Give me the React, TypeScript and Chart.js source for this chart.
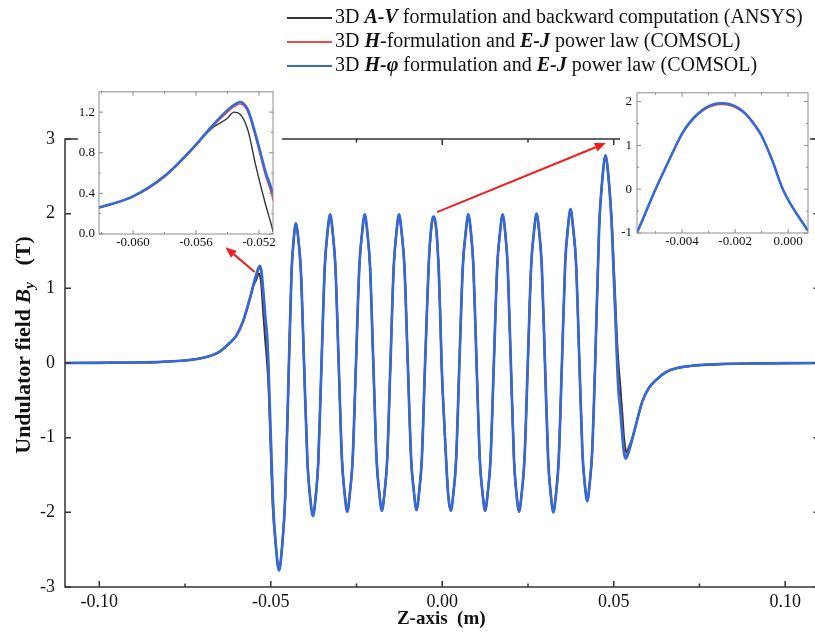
import React, { useEffect, useRef } from "react";
import { Chart, registerables } from "chart.js";

Chart.register(...registerables);

const FONT = "'Liberation Serif', 'Times New Roman', Times, serif";

// ---- data (z in m, By in T) ----
const zPos = [
  -0.110, -0.100, -0.090, -0.082, -0.076, -0.072, -0.068, -0.065, -0.0622, -0.060,
  -0.058, -0.056, -0.055, -0.054, -0.0536, -0.0532, -0.0527, -0.0522, -0.0516, -0.0511,
  -0.0507, -0.0494, -0.04857, -0.0476, -0.04663, -0.0458, -0.0447, -0.04394, -0.04336, -0.0427,
  -0.0419, -0.04121, -0.0403, -0.03931, -0.03856, -0.0377, -0.03688, -0.03615, -0.0352, -0.03425,
  -0.0335, -0.0327, -0.0319, -0.03115, -0.0302, -0.02925, -0.0285, -0.0277, -0.0269, -0.02612,
  -0.02515, -0.02418, -0.0234, -0.0226, -0.0218, -0.02105, -0.0201, -0.01915, -0.0184, -0.0176,
  -0.0168, -0.01605, -0.0151, -0.01415, -0.0134, -0.0126, -0.0118, -0.01102, -0.01005, -0.00908,
  -0.0083, -0.0075, -0.0067, -0.00595, -0.0050, -0.0045, -0.0040, -0.0037, -0.0034, -0.0031, -0.0028,
  -0.0025, -0.0022, -0.0019, -0.0016, -0.0013, -0.0010, -0.0006,
  -0.0002, 0.00075, 0.0013, 0.0018, 0.0025, 0.0033, 0.00405, 0.0050, 0.00599, 0.0068,
  0.0076, 0.0084, 0.00909, 0.0100, 0.01095, 0.0117, 0.0125, 0.0133, 0.01408, 0.01505,
  0.01602, 0.0168, 0.0176, 0.0184, 0.01909, 0.0200, 0.02091, 0.0216, 0.0224, 0.0232,
  0.02398, 0.02495, 0.02592, 0.0267, 0.0275, 0.0283, 0.02902, 0.02995, 0.03088, 0.0316,
  0.0324, 0.0332, 0.03395, 0.0349, 0.03585, 0.0366, 0.0374, 0.0382, 0.03901, 0.0400,
  0.04087, 0.04154, 0.0423, 0.0430, 0.0437, 0.0446, 0.04574, 0.0466, 0.0476, 0.0486,
  0.04945, 0.0510, 0.0514, 0.0519, 0.0525, 0.0530, 0.0535, 0.0539, 0.0543, 0.0553,
  0.0563, 0.0583, 0.0603, 0.0625, 0.0653, 0.0683, 0.0723, 0.0763, 0.0823, 0.0903,
  0.1003, 0.110,
];

// 3D H-phi formulation (COMSOL)
const byBlue = [
  0, 0.003, 0.007, 0.015, 0.03, 0.05, 0.09, 0.15, 0.26, 0.37,
  0.57, 0.88, 1.06, 1.22, 1.27, 1.30, 1.22, 0.97, 0.62, 0.38,
  0, -1.81, -2.42, -2.78, -2.42, -1.81, 0, 1.22, 1.63, 1.87,
  1.63, 1.22, 0, -1.33, -1.78, -2.05, -1.78, -1.33, 0, 1.29,
  1.73, 1.99, 1.73, 1.29, 0, -1.29, -1.73, -1.99, -1.73, -1.29,
  0, 1.29, 1.73, 1.99, 1.73, 1.29, 0, -1.29, -1.72, -1.98,
  -1.72, -1.29, 0, 1.29, 1.73, 1.99, 1.73, 1.29, 0, -1.28,
  -1.71, -1.97, -1.71, -1.28, 0, 0.65, 1.27, 1.53, 1.72, 1.86, 1.94,
  1.96, 1.94, 1.86, 1.72, 1.50, 1.22, 0.66,
  0, -0.95, -1.45, -1.80, -1.98, -1.72, -1.29, 0, 1.29, 1.73,
  1.99, 1.73, 1.29, 0, -1.29, -1.72, -1.98, -1.72, -1.29, 0,
  1.29, 1.73, 1.99, 1.73, 1.29, 0, -1.29, -1.73, -1.99, -1.73,
  -1.29, 0, 1.30, 1.74, 2.00, 1.74, 1.30, 0, -1.30, -1.74,
  -2.00, -1.74, -1.30, 0, 1.34, 1.79, 2.06, 1.79, 1.34, 0,
  -1.20, -1.61, -1.85, -1.61, -1.20, 0, 1.81, 2.42, 2.78, 2.42,
  1.81, 0, -0.38, -0.62, -0.97, -1.20, -1.28, -1.25, -1.20, -1.04,
  -0.86, -0.52, -0.33, -0.22, -0.12, -0.07, -0.04, -0.025, -0.012, -0.006,
  -0.003, 0,
];

// 3D H-formulation (COMSOL)
const byRed = [
  0, 0.003, 0.007, 0.015, 0.03, 0.05, 0.09, 0.15, 0.255, 0.365,
  0.56, 0.87, 1.05, 1.20, 1.25, 1.28, 1.20, 0.94, 0.58, 0.33,
  -0.04, -1.83, -2.42, -2.78, -2.42, -1.81, 0, 1.22, 1.63, 1.87,
  1.63, 1.22, 0, -1.33, -1.78, -2.05, -1.78, -1.33, 0, 1.29,
  1.73, 1.99, 1.73, 1.29, 0, -1.29, -1.73, -1.99, -1.73, -1.29,
  0, 1.29, 1.73, 1.99, 1.73, 1.29, 0, -1.29, -1.72, -1.98,
  -1.72, -1.29, 0, 1.29, 1.73, 1.99, 1.73, 1.29, 0, -1.28,
  -1.71, -1.97, -1.71, -1.28, 0, 0.64, 1.25, 1.51, 1.70, 1.83, 1.91,
  1.93, 1.91, 1.83, 1.70, 1.48, 1.21, 0.65,
  0, -0.95, -1.45, -1.80, -1.98, -1.72, -1.29, 0, 1.29, 1.73,
  1.99, 1.73, 1.29, 0, -1.29, -1.72, -1.98, -1.72, -1.29, 0,
  1.29, 1.73, 1.99, 1.73, 1.29, 0, -1.29, -1.73, -1.99, -1.73,
  -1.29, 0, 1.30, 1.74, 2.00, 1.74, 1.30, 0, -1.30, -1.74,
  -2.00, -1.74, -1.30, 0, 1.34, 1.79, 2.06, 1.79, 1.34, 0,
  -1.20, -1.61, -1.85, -1.61, -1.20, 0, 1.81, 2.42, 2.78, 2.42,
  1.83, 0.04, -0.33, -0.58, -0.94, -1.17, -1.25, -1.23, -1.18, -1.03,
  -0.86, -0.52, -0.33, -0.22, -0.12, -0.07, -0.04, -0.025, -0.012, -0.006,
  -0.003, 0,
];

// 3D A-V formulation (ANSYS)
const byBlack = [
  0, 0.003, 0.007, 0.015, 0.03, 0.05, 0.09, 0.15, 0.255, 0.37,
  0.57, 0.88, 1.04, 1.14, 1.20, 1.18, 1.02, 0.67, 0.30, 0.02,
  -0.28, -1.95, -2.42, -2.76, -2.42, -1.81, 0, 1.22, 1.63, 1.87,
  1.63, 1.22, 0, -1.33, -1.78, -2.05, -1.78, -1.33, 0, 1.29,
  1.73, 1.99, 1.73, 1.29, 0, -1.29, -1.73, -1.99, -1.73, -1.29,
  0, 1.29, 1.73, 1.99, 1.73, 1.29, 0, -1.29, -1.72, -1.98,
  -1.72, -1.29, 0, 1.29, 1.73, 1.99, 1.73, 1.29, 0, -1.28,
  -1.71, -1.97, -1.71, -1.28, 0, 0.65, 1.27, 1.53, 1.72, 1.85, 1.93,
  1.95, 1.93, 1.85, 1.72, 1.50, 1.22, 0.66,
  0, -0.95, -1.45, -1.80, -1.98, -1.72, -1.29, 0, 1.29, 1.73,
  1.99, 1.73, 1.29, 0, -1.29, -1.72, -1.98, -1.72, -1.29, 0,
  1.29, 1.73, 1.99, 1.73, 1.29, 0, -1.29, -1.73, -1.99, -1.73,
  -1.29, 0, 1.30, 1.74, 2.00, 1.74, 1.30, 0, -1.30, -1.74,
  -2.00, -1.74, -1.30, 0, 1.34, 1.79, 2.06, 1.79, 1.34, 0,
  -1.20, -1.61, -1.85, -1.61, -1.20, 0, 1.81, 2.42, 2.76, 2.42,
  1.90, 0.28, -0.02, -0.30, -0.67, -1.00, -1.17, -1.20, -1.14, -1.02,
  -0.86, -0.52, -0.33, -0.22, -0.12, -0.07, -0.04, -0.025, -0.012, -0.006,
  -0.003, 0,
];

// arrows from main curve to insets (data coords: z, By)
const arrowFrom = [[-0.0547, 1.22], [-0.0015, 2.02]];
const arrowTo = [[-0.0632, 1.55], [0.0477, 2.945]];

const COLORS = { black: "#353535", red: "#f04b4b", blue: "#3569d6" };

type Seg = { t: string; s: string };
const legendRows: { color: string; segs: Seg[] }[] = [
  {
    color: COLORS.black,
    segs: [
      { t: "3D ", s: "" },
      { t: "A-V", s: "italic bold" },
      { t: " formulation and backward computation (ANSYS)", s: "" },
    ],
  },
  {
    color: COLORS.red,
    segs: [
      { t: "3D ", s: "" },
      { t: "H", s: "italic bold" },
      { t: "-formulation and ", s: "" },
      { t: "E-J", s: "italic bold" },
      { t: " power law (COMSOL)", s: "" },
    ],
  },
  {
    color: COLORS.blue,
    segs: [
      { t: "3D ", s: "" },
      { t: "H-\u03c6", s: "italic bold" },
      { t: " formulation and ", s: "" },
      { t: "E-J", s: "italic bold" },
      { t: " power law (COMSOL)", s: "" },
    ],
  },
];

const toPoints = (ys: number[]) => zPos.map((z, i) => ({ x: z, y: ys[i] }));

function makeDatasets(wBlue: number, wOther: number) {
  const common = { pointRadius: 0, cubicInterpolationMode: "monotone" as const, fill: false };
  return [
    { label: "blue", data: toPoints(byBlue), borderColor: COLORS.blue, borderWidth: wBlue, ...common },
    { label: "red", data: toPoints(byRed), borderColor: COLORS.red, borderWidth: wOther, ...common },
    { label: "black", data: toPoints(byBlack), borderColor: COLORS.black, borderWidth: wOther, ...common },
  ];
}

function minorsOf(vals: number[], min: number, max: number) {
  const out: number[] = [];
  if (vals.length < 2) return out;
  const step = vals[1] - vals[0];
  for (let i = -1; i < vals.length; i++) {
    const m = vals[0] + (i + 0.5) * step;
    const eps = step * 1e-3;
    if (m > min + eps && m < max - eps) out.push(m);
  }
  return out;
}

const frameTicksPlugin = {
  id: "frameTicks",
  afterDatasetsDraw(chart: any, _a: any, opts: any) {
    const { ctx, chartArea: a } = chart;
    const xs = chart.scales.x;
    const ys = chart.scales.y;
    ctx.save();
    ctx.strokeStyle = opts.color;
    ctx.lineWidth = opts.width;
    ctx.strokeRect(a.left, a.top, a.right - a.left, a.bottom - a.top);
    const xMaj = xs.ticks.map((t: any) => t.value);
    const yMaj = ys.ticks.map((t: any) => t.value);
    const drawX = (v: number, len: number) => {
      const p = xs.getPixelForValue(v);
      ctx.beginPath();
      ctx.moveTo(p, a.bottom);
      ctx.lineTo(p, a.bottom - len);
      ctx.moveTo(p, a.top);
      ctx.lineTo(p, a.top + len);
      ctx.stroke();
    };
    const drawY = (v: number, len: number) => {
      const p = ys.getPixelForValue(v);
      ctx.beginPath();
      ctx.moveTo(a.left, p);
      ctx.lineTo(a.left + len, p);
      ctx.moveTo(a.right, p);
      ctx.lineTo(a.right - len, p);
      ctx.stroke();
    };
    xMaj.forEach((v: number) => drawX(v, opts.major));
    yMaj.forEach((v: number) => drawY(v, opts.major));
    if (opts.xMinor) minorsOf(xMaj, xs.min, xs.max).forEach((v) => drawX(v, opts.minor));
    if (opts.yMinor) minorsOf(yMaj, ys.min, ys.max).forEach((v) => drawY(v, opts.minor));
    ctx.restore();
  },
};

function drawSegs(ctx: CanvasRenderingContext2D, segs: Seg[], x: number, y: number, size: number) {
  let cx = x;
  for (const s of segs) {
    ctx.font = `${s.s} ${size}px ${FONT}`;
    ctx.fillText(s.t, cx, y);
    cx += ctx.measureText(s.t).width;
  }
}

type InsetSpec = {
  xMin: number; xMax: number; xStep: number; xDigits: number;
  yMin: number; yMax: number; yStep: number; yDigits: number;
  yWidth: number; xHeight: number; padTop: number; padRight: number;
  yPad: number;
};

const leftInset: InsetSpec = {
  xMin: -0.06216, xMax: -0.05111, xStep: 0.004, xDigits: 3,
  yMin: 0, yMax: 1.4, yStep: 0.4, yDigits: 1,
  yWidth: 21, xHeight: 22, padTop: 10, padRight: 9, yPad: 4,
};
const rightInset: InsetSpec = {
  xMin: -0.0057, xMax: 0.00075, xStep: 0.002, xDigits: 3,
  yMin: -1, yMax: 2.2, yStep: 1, yDigits: 0,
  yWidth: 17, xHeight: 23, padTop: 10, padRight: 2, yPad: 5,
};

const noGrid = { display: false, drawTicks: false };

function insetConfig(s: InsetSpec): any {
  return {
    type: "line",
    data: { datasets: makeDatasets(2.6, 1.4) },
    plugins: [frameTicksPlugin],
    options: {
      animation: false,
      responsive: false,
      events: [],
      layout: { padding: { top: s.padTop, left: 0, right: s.padRight, bottom: 0 } },
      elements: { line: { capBezierPoints: false } },
      plugins: {
        legend: { display: false },
        tooltip: { enabled: false },
        frameTicks: { color: "#8c8c8c", width: 1, major: 4, minor: 2, xMinor: true, yMinor: true },
      },
      scales: {
        x: {
          type: "linear",
          min: s.xMin,
          max: s.xMax,
          grid: noGrid,
          border: { display: false },
          ticks: {
            stepSize: s.xStep,
            includeBounds: false,
            autoSkip: false,
            maxRotation: 0,
            padding: 1,
            color: "#111",
            font: { size: 13, family: FONT },
            callback: (v: any) => Number(v).toFixed(s.xDigits),
          },
          afterFit: (sc: any) => { sc.height = s.xHeight; },
        },
        y: {
          type: "linear",
          min: s.yMin,
          max: s.yMax,
          grid: noGrid,
          border: { display: false },
          ticks: {
            stepSize: s.yStep,
            includeBounds: false,
            padding: s.yPad,
            color: "#111",
            font: { size: 13, family: FONT },
            callback: (v: any) => Number(v).toFixed(s.yDigits),
          },
          afterFit: (sc: any) => { sc.width = s.yWidth; },
        },
      },
    },
  };
}

export default function App() {
  const mainRef = useRef<HTMLCanvasElement>(null);
  const leftRef = useRef<HTMLCanvasElement>(null);
  const rightRef = useRef<HTMLCanvasElement>(null);
  const overlayRef = useRef<HTMLCanvasElement>(null);

  useEffect(() => {
    Chart.defaults.font.family = FONT;
    Chart.defaults.color = "#111";

    const annotPlugin = {
      id: "annot",
      afterDraw(chart: any) {
        const { ctx, chartArea: a } = chart;
        ctx.save();
        ctx.fillStyle = "#111";
        ctx.textBaseline = "middle";
        ctx.textAlign = "left";
        // legend
        legendRows.forEach((row, i) => {
          const cy = 18 + i * 24;
          ctx.strokeStyle = row.color;
          ctx.lineWidth = 2;
          ctx.beginPath();
          ctx.moveTo(287, cy);
          ctx.lineTo(332, cy);
          ctx.stroke();
          drawSegs(ctx, row.segs, 335, cy, 20);
        });
        // x title
        ctx.textAlign = "center";
        ctx.font = `bold 19px ${FONT}`;
        ctx.fillText("Z-axis  (m)", (a.left + a.right) / 2 - 1, 619);
        // y title (rotated, with subscript)
        ctx.textAlign = "left";
        ctx.translate(24, (a.top + a.bottom) / 2 - 18);
        ctx.rotate(-Math.PI / 2);
        const parts = [
          { t: "Undulator field ", f: `bold 22px ${FONT}`, dy: 0 },
          { t: "B", f: `italic bold 22px ${FONT}`, dy: 0 },
          { t: "y", f: `italic bold 15px ${FONT}`, dy: 6 },
          { t: "   (T)", f: `bold 22px ${FONT}`, dy: 0 },
        ];
        let total = 0;
        parts.forEach((p) => { ctx.font = p.f; total += ctx.measureText(p.t).width; });
        let cx = -total / 2;
        parts.forEach((p) => {
          ctx.font = p.f;
          ctx.fillText(p.t, cx, p.dy);
          cx += ctx.measureText(p.t).width;
        });
        ctx.restore();

        // arrows on overlay (above insets)
        const ov = overlayRef.current;
        if (!ov) return;
        const o = ov.getContext("2d")!;
        o.clearRect(0, 0, ov.width, ov.height);
        const xs = chart.scales.x;
        const ys = chart.scales.y;
        o.strokeStyle = "#f01e1e";
        o.fillStyle = "#f01e1e";
        o.lineWidth = 2;
        arrowFrom.forEach((f, i) => {
          const x1 = xs.getPixelForValue(f[0]);
          const y1 = ys.getPixelForValue(f[1]);
          const x2 = xs.getPixelForValue(arrowTo[i][0]);
          const y2 = ys.getPixelForValue(arrowTo[i][1]);
          const ang = Math.atan2(y2 - y1, x2 - x1);
          const hl = 11;
          const hw = 4.5;
          const bx = x2 - hl * Math.cos(ang);
          const by = y2 - hl * Math.sin(ang);
          o.beginPath();
          o.moveTo(x1, y1);
          o.lineTo(bx, by);
          o.stroke();
          o.beginPath();
          o.moveTo(x2, y2);
          o.lineTo(bx + hw * Math.sin(ang), by - hw * Math.cos(ang));
          o.lineTo(bx - hw * Math.sin(ang), by + hw * Math.cos(ang));
          o.closePath();
          o.fill();
        });
      },
    };

    const mainCfg: any = {
      type: "line",
      data: { datasets: makeDatasets(2.7, 2) },
      plugins: [frameTicksPlugin, annotPlugin],
      options: {
        animation: false,
        responsive: false,
        events: [],
        layout: { padding: { top: 139, left: 0, right: 10.5, bottom: 0 } },
        elements: { line: { capBezierPoints: false } },
        plugins: {
          legend: { display: false },
          tooltip: { enabled: false },
          frameTicks: { color: "#333", width: 1.5, major: 6, minor: 3.5, xMinor: true, yMinor: false },
        },
        scales: {
          x: {
            type: "linear",
            min: -0.11,
            max: 0.11,
            grid: noGrid,
            border: { display: false },
            ticks: {
              stepSize: 0.05,
              includeBounds: false,
              autoSkip: false,
              maxRotation: 0,
              padding: 4,
              color: "#111",
              font: { size: 18, family: FONT },
              callback: (v: any) => Number(v).toFixed(2),
            },
            afterFit: (sc: any) => { sc.height = 47; },
          },
          y: {
            type: "linear",
            min: -3,
            max: 3,
            grid: noGrid,
            border: { display: false },
            ticks: {
              stepSize: 1,
              includeBounds: false,
              padding: 10,
              color: "#111",
              font: { size: 18, family: FONT },
              callback: (v: any) => String(Math.round(Number(v))),
            },
            afterFit: (sc: any) => { sc.width = 65; },
          },
        },
      },
    };

    const charts: Chart[] = [];
    charts.push(new Chart(mainRef.current!, mainCfg));
    charts.push(new Chart(leftRef.current!, insetConfig(leftInset)));
    charts.push(new Chart(rightRef.current!, insetConfig(rightInset)));
    return () => charts.forEach((c) => c.destroy());
  }, []);

  return (
    <div
      style={{
        position: "fixed",
        left: 0,
        top: 0,
        width: 815,
        height: 634,
        overflow: "hidden",
        background: "#fff",
      }}
    >
      <canvas ref={mainRef} width={830} height={634}
        style={{ position: "absolute", left: 0, top: 0, width: 830, height: 634 }} />
      <canvas ref={leftRef} width={204} height={176}
        style={{ position: "absolute", left: 78, top: 80, width: 204, height: 176, background: "#fff" }} />
      <canvas ref={rightRef} width={190} height={176}
        style={{ position: "absolute", left: 620, top: 80, width: 190, height: 176, background: "#fff" }} />
      <canvas ref={overlayRef} width={830} height={634}
        style={{ position: "absolute", left: 0, top: 0, width: 830, height: 634, pointerEvents: "none" }} />
    </div>
  );
}
